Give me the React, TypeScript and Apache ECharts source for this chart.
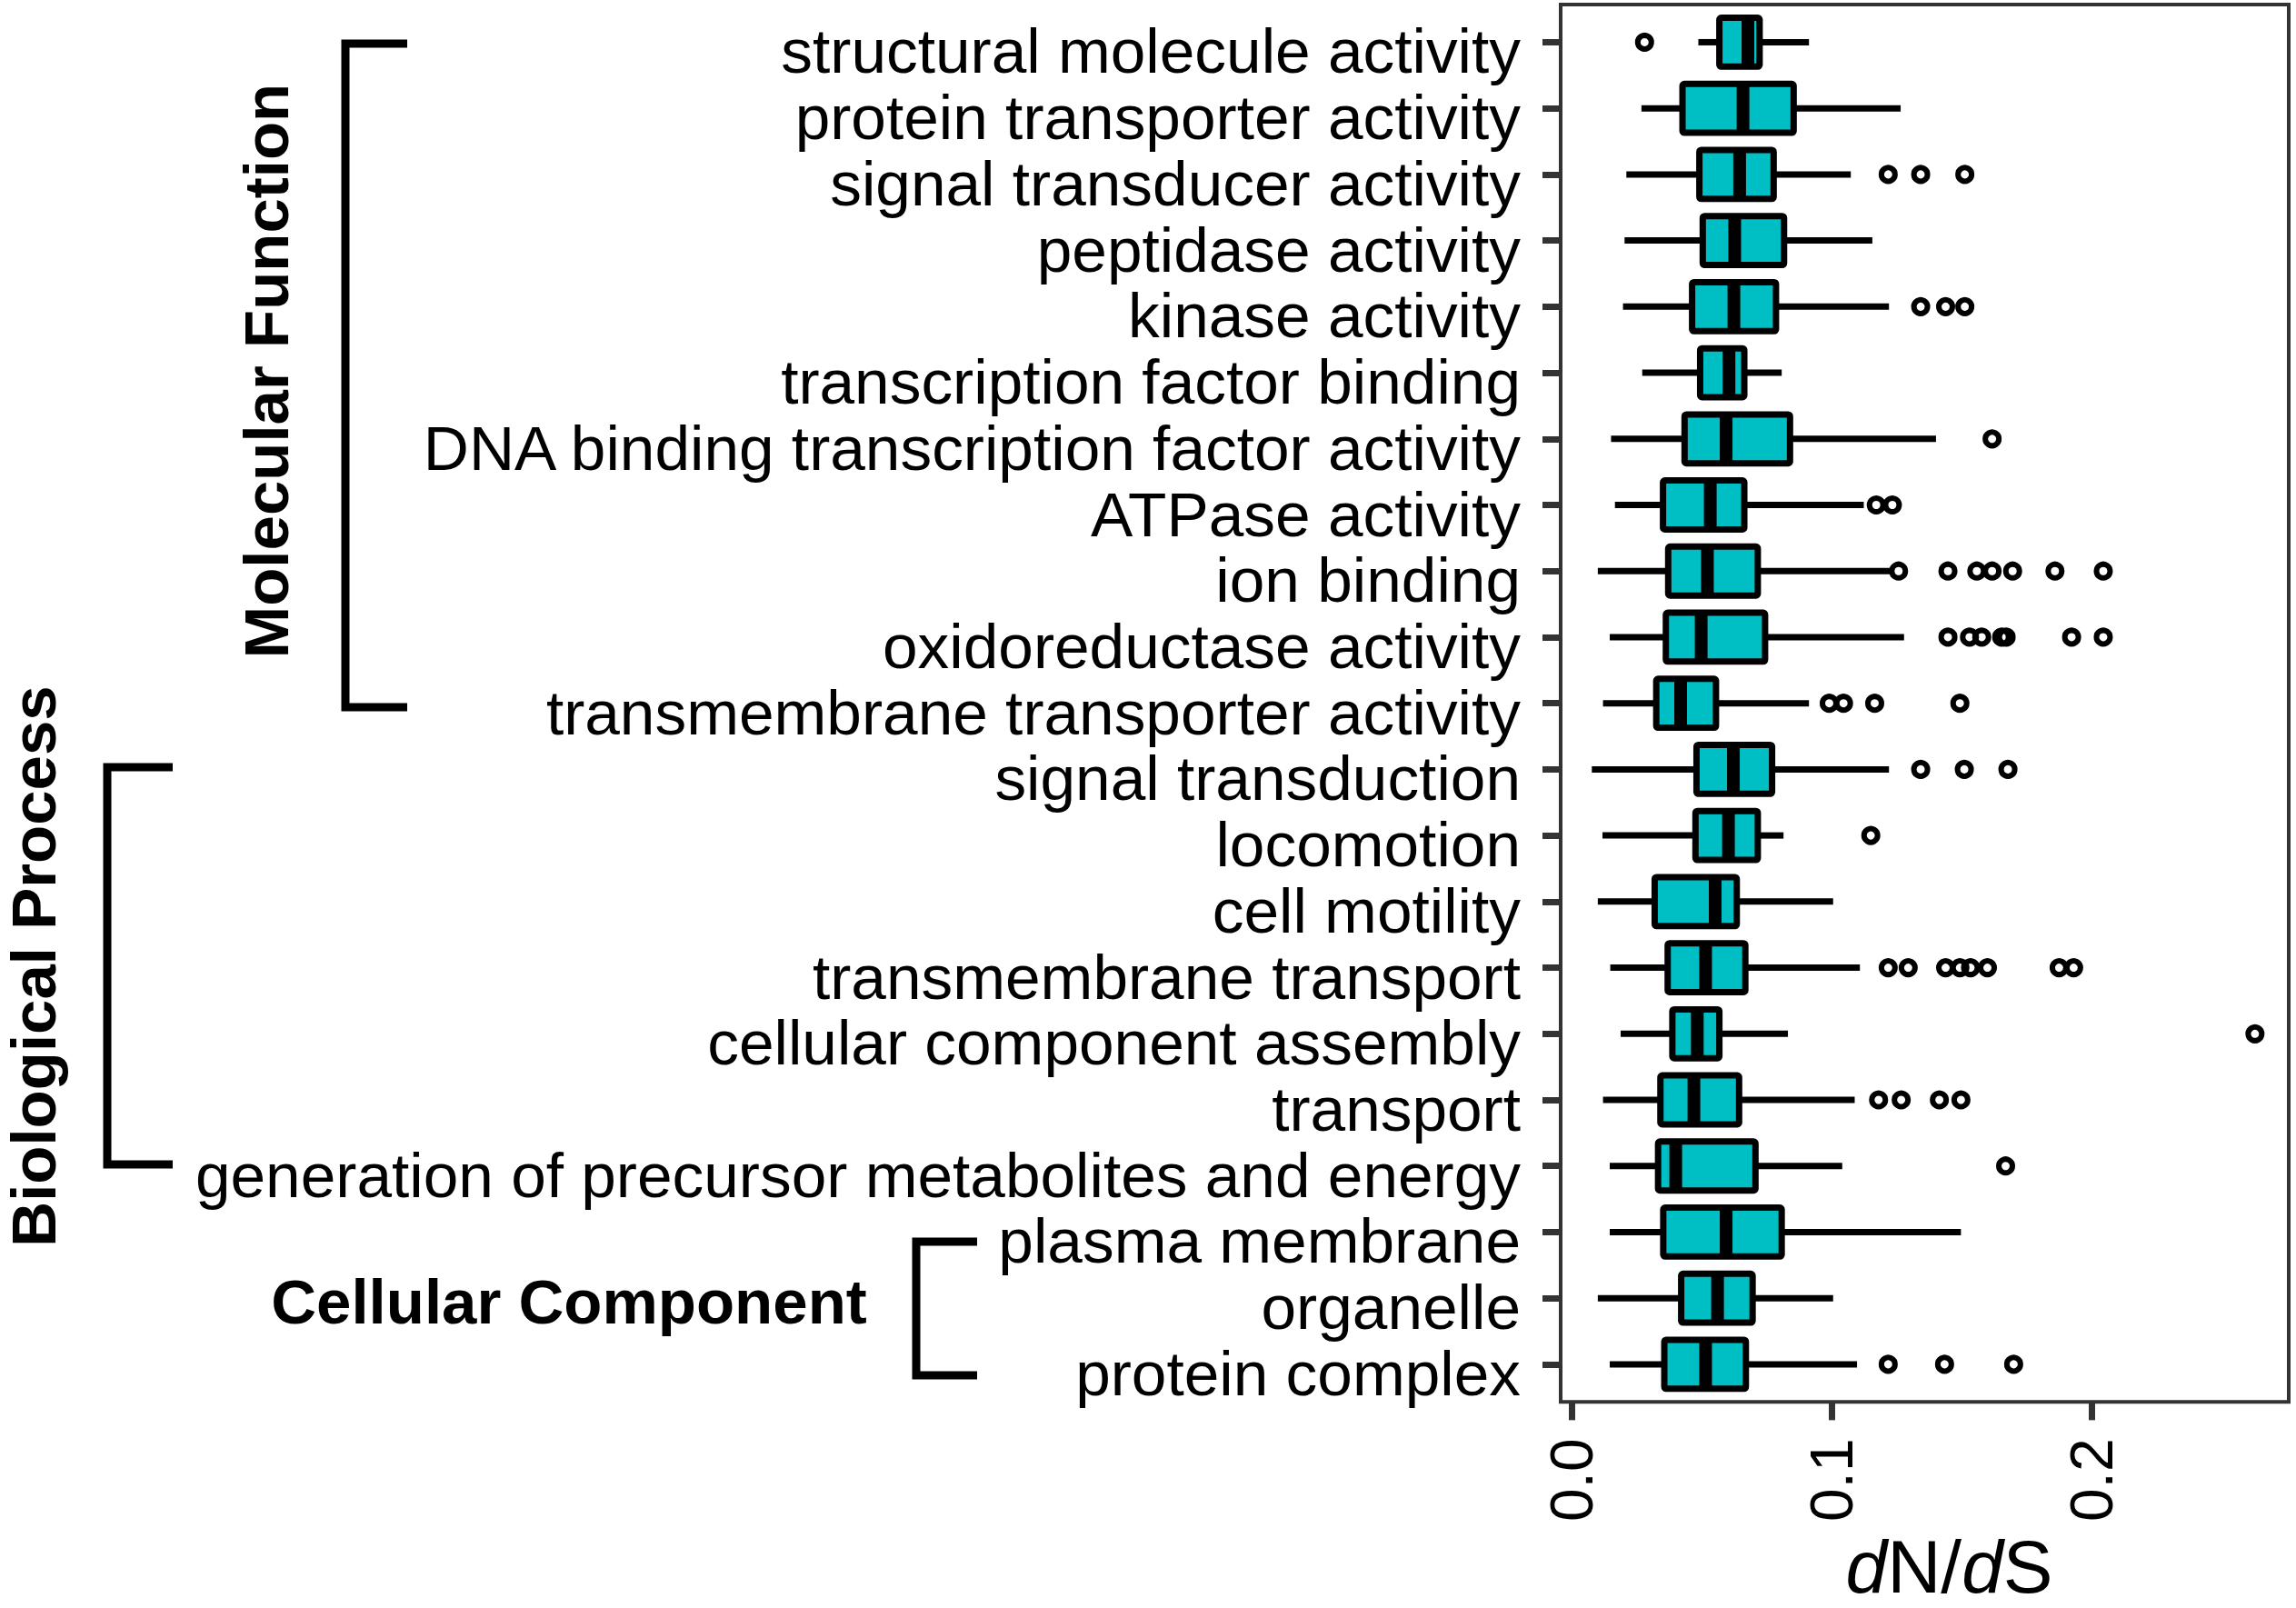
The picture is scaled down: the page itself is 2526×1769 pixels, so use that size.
import React, { useEffect, useRef } from "react";
import * as echarts from "echarts";

const categories = [
  "structural molecule activity",
  "protein transporter activity",
  "signal transducer activity",
  "peptidase activity",
  "kinase activity",
  "transcription factor binding",
  "DNA binding transcription factor activity",
  "ATPase activity",
  "ion binding",
  "oxidoreductase activity",
  "transmembrane transporter activity",
  "signal transduction",
  "locomotion",
  "cell motility",
  "transmembrane transport",
  "cellular component assembly",
  "transport",
  "generation of precursor metabolites and energy",
  "plasma membrane",
  "organelle",
  "protein complex",
];

const whiskerLow = [0.0487, 0.0268, 0.021, 0.0203, 0.0197, 0.0271, 0.0151, 0.0166, 0.01, 0.0146, 0.012, 0.0077, 0.0118, 0.01, 0.0148, 0.0188, 0.012, 0.0146, 0.0146, 0.01, 0.0146];
const q1 = [0.0568, 0.0426, 0.0491, 0.0504, 0.0463, 0.0494, 0.0434, 0.0351, 0.0371, 0.0362, 0.0325, 0.048, 0.0476, 0.0319, 0.0369, 0.0387, 0.0341, 0.0332, 0.0352, 0.0421, 0.0356];
const median = [0.0678, 0.0659, 0.0646, 0.0627, 0.0624, 0.0605, 0.0594, 0.0533, 0.0522, 0.0498, 0.0419, 0.0622, 0.0603, 0.0552, 0.0515, 0.0483, 0.047, 0.04, 0.0594, 0.0561, 0.0515];
const q3 = [0.0723, 0.0854, 0.0777, 0.0817, 0.0786, 0.0664, 0.084, 0.0664, 0.0716, 0.0744, 0.0555, 0.0771, 0.0716, 0.0635, 0.0668, 0.0568, 0.0644, 0.0707, 0.0808, 0.0696, 0.067];
const whiskerHigh = [0.0913, 0.1266, 0.1074, 0.1157, 0.1221, 0.0808, 0.1402, 0.1124, 0.1235, 0.1279, 0.0913, 0.1221, 0.0815, 0.1006, 0.1109, 0.0832, 0.1089, 0.1041, 0.1498, 0.1006, 0.1098];
const outliers: number[][] = [
  [0.028],
  [],
  [0.1218, 0.1343, 0.1513],
  [],
  [0.1343, 0.1439, 0.1513],
  [],
  [0.1618],
  [0.1172, 0.1234],
  [0.1258, 0.1448, 0.1559, 0.1618, 0.1697, 0.186, 0.2046],
  [0.1448, 0.1531, 0.1578, 0.1655, 0.1672, 0.1924, 0.2046],
  [0.0991, 0.1046, 0.1166, 0.1494],
  [0.1343, 0.1511, 0.1679],
  [0.1151],
  [],
  [0.1218, 0.1295, 0.1439, 0.1494, 0.1535, 0.16, 0.1876, 0.1932],
  [0.263],
  [0.1181, 0.1268, 0.1415, 0.1498],
  [0.167],
  [],
  [],
  [0.1218, 0.1435, 0.1701],
];
const xTicks = [0, 0.1, 0.2];
const rowIndices = categories.map((_, i) => i);

const FONT = "Liberation Sans";

export default function App() {
  const ref = useRef<HTMLDivElement>(null);
  useEffect(() => {
    const chart = echarts.init(ref.current!, null, { renderer: "svg" });
    const boxData = categories.map((_, i) => [whiskerLow[i], q1[i], median[i], q3[i], whiskerHigh[i], i]);
    const outlierData: number[][] = [];
    outliers.forEach((arr, i) => arr.forEach((v) => outlierData.push([v, i])));

    chart.setOption({
      animation: false,
      textStyle: { fontFamily: FONT },
      grid: {
        left: 1717,
        top: 5,
        right: 8,
        bottom: 223,
        show: true,
        borderColor: "#333",
        borderWidth: 4,
        backgroundColor: "transparent",
      },
      xAxis: {
        type: "value",
        position: "bottom",
        min: -0.0043,
        max: 0.276,
        axisLine: { show: false, onZero: false },
        splitLine: { show: false },
        axisTick: { show: true, length: 20, lineStyle: { color: "#333", width: 7 }, customValues: xTicks },
        axisLabel: {
          rotate: 90,
          fontSize: 66,
          color: "#000",
          fontFamily: FONT,
          margin: 40,
          customValues: xTicks,
          formatter: (v: number) => v.toFixed(1),
        },
        name: "{i|d}N/{i|d}S",
        nameLocation: "middle",
        nameGap: 96,
        nameTextStyle: {
          fontSize: 82,
          color: "#000",
          fontFamily: FONT,
          padding: [0, 0, 0, 54],
          rich: { i: { fontStyle: "italic", fontSize: 82, fontFamily: FONT, color: "#000" } },
        },
      },
      yAxis: {
        type: "value",
        position: "left",
        inverse: true,
        min: -0.57,
        max: 20.57,
        axisLine: { show: false, onZero: false },
        splitLine: { show: false },
        axisTick: { show: true, length: 20, lineStyle: { color: "#333", width: 7 }, customValues: rowIndices },
        axisLabel: {
          fontSize: 69.4,
          color: "#000",
          fontFamily: FONT,
          margin: 44,
          verticalAlign: "top",
          lineHeight: 20,
          customValues: rowIndices,
          formatter: (v: number) => categories[Math.round(v)] ?? "",
        },
      },
      series: [
        {
          type: "custom",
          data: boxData,
          encode: { x: [0, 1, 2, 3, 4], y: 5 },
          renderItem: (params: any, api: any) => {
            const idx = api.value(5);
            const lo = api.coord([api.value(0), idx]);
            const a = api.coord([api.value(1), idx]);
            const m = api.coord([api.value(2), idx]);
            const b = api.coord([api.value(3), idx]);
            const hi = api.coord([api.value(4), idx]);
            const band = Math.abs(api.size([0, 1])[1]);
            const h = band * 0.74;
            const yc = lo[1];
            const ls = { stroke: "#000", lineWidth: 7 };
            return {
              type: "group",
              children: [
                { type: "line", shape: { x1: lo[0], y1: yc, x2: a[0], y2: yc }, style: ls },
                { type: "line", shape: { x1: b[0], y1: yc, x2: hi[0], y2: yc }, style: ls },
                {
                  type: "rect",
                  shape: { x: a[0], y: yc - h / 2, width: b[0] - a[0], height: h, r: 2 },
                  style: { fill: "#00BFC4", stroke: "#000", lineWidth: 7, lineJoin: "round" },
                },
                {
                  type: "line",
                  shape: { x1: m[0], y1: yc - h / 2, x2: m[0], y2: yc + h / 2 },
                  style: { stroke: "#000", lineWidth: 14 },
                },
              ],
            };
          },
          z: 2,
        },
        {
          type: "scatter",
          data: outlierData,
          symbol: "circle",
          symbolSize: 15,
          itemStyle: { color: "rgba(0,0,0,0)", borderColor: "#000", borderWidth: 6, opacity: 1 },
          z: 3,
        },
      ],
    });

    const bracket = (xV: number, xR: number, yT: number, yB: number) => ({
      type: "polyline",
      shape: { points: [[xR, yT], [xV, yT], [xV, yB], [xR, yB]] },
      style: { stroke: "#000", lineWidth: 9, fill: "none", lineJoin: "miter" },
    });
    const label = (text: string, x: number, y: number, rot: number) => ({
      type: "text",
      x,
      y,
      rotation: rot,
      style: {
        text,
        fill: "#000",
        fontSize: 69,
        fontWeight: "bold",
        fontFamily: FONT,
        align: "center",
        verticalAlign: "middle",
        textAlign: "center",
        textVerticalAlign: "middle",
      },
    });

    chart.setOption({
      graphic: [
        bracket(380, 448, 48, 778),
        bracket(118, 190, 844, 1281),
        bracket(1008, 1075, 1366, 1513),
        label("Molecular Function", 293, 408, Math.PI / 2),
        label("Biological Process", 37, 1063, Math.PI / 2),
        label("Cellular Component", 626, 1432, 0),
      ],
    });

    return () => chart.dispose();
  }, []);
  return <div ref={ref} style={{ position: "fixed", left: 0, top: 0, width: 2526, height: 1769 }} />;
}
